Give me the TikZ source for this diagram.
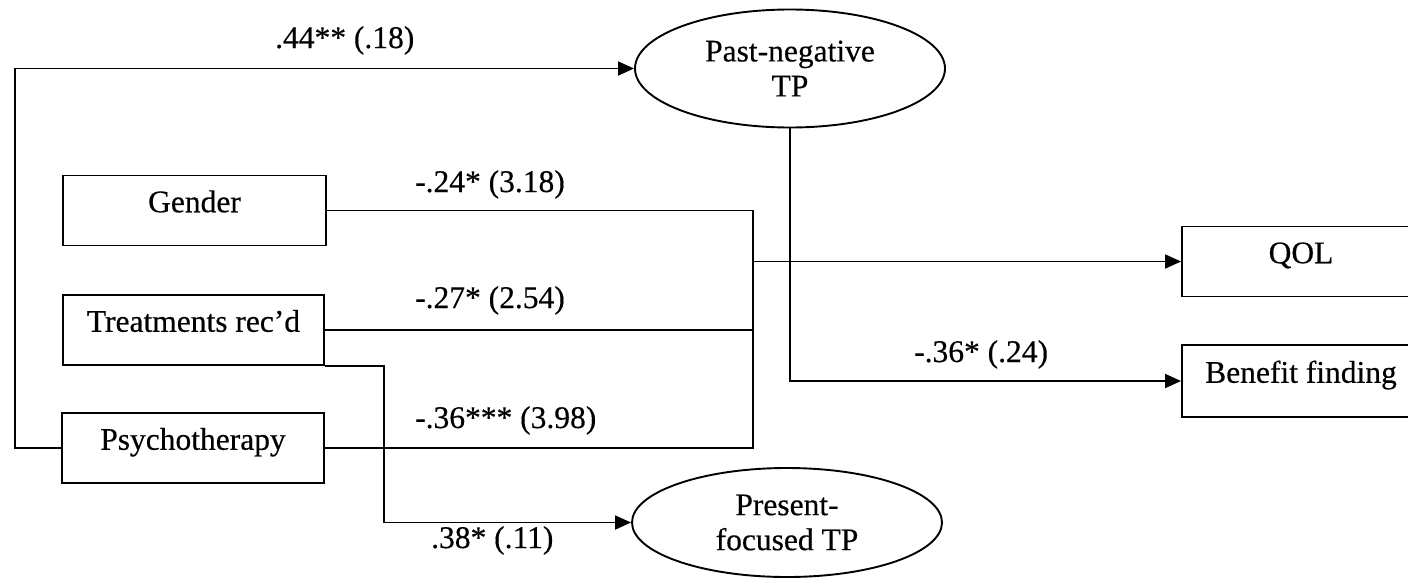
\documentclass[tikz,border=0pt]{standalone}
\usepackage{fontspec}
\setmainfont{Liberation Serif}[FakeBold=0.4]
\usetikzlibrary{shapes.geometric,arrows.meta}
\begin{document}
\begin{tikzpicture}[x=1pt,y=-1pt,
  every node/.style={font=\fontsize{31.5}{35}\selectfont, text=black},
  varbox/.style={draw, line width=1.9pt, minimum width=262pt, minimum height=70pt,
    inner sep=0pt, text height=0.7em, text depth=0.35em},
  latent/.style={draw, ellipse, line width=1.9pt, minimum width=310pt,
    inner sep=0pt, align=center},
  link/.style={line width=1.8pt},
  arr/.style={link, -{Triangle[length=16pt,width=14pt]}},
  coef/.style={anchor=base west, inner sep=0pt}]

\useasboundingbox (0,0) rectangle (1408,579);
\clip (0,0) rectangle (1408,579);

% predictors
\node[varbox, minimum width=263pt] (gender) at (194.5,210.5) {Gender};
\node[varbox, minimum width=261pt] (treat) at (193.5,330) {Treatments rec’d};
\node[varbox] (psy) at (193,448) {Psychotherapy};

% mediators
\node[latent, minimum height=118pt] (pn) at (790,68.5) {Past-negative\\TP};
\node[latent, minimum height=109pt] (pf) at (787,522.5) {Present-\\focused TP};

% outcomes
\node[varbox, minimum width=238pt] (qol) at (1301,261.5) {QOL};
\node[varbox, minimum width=238pt, minimum height=72pt] (bf) at (1301,381) {Benefit finding};

% paths
\coordinate (hub) at (753,261.5);
\draw[arr] (psy.west) -- ++(-46,0) |- (pn.west);
\draw[link] (gender.east) -| (hub |- psy.east) -- (psy.east);
\draw[link] (treat.east) -- (treat.east -| hub);
\draw[arr] (hub) -- (qol.west);
\draw[arr] (pn.south) |- (bf.west);
\draw[arr] (treat.south east) -- ++(59,0) |- (pf.west);

% coefficients
\node[coef] (c1) at (275,48) {.44** (.18)};
\node[coef] (c2) at (415,192) {-.24* (3.18)};
\node[coef] (c3) at (415,308) {-.27* (2.54)};
\node[coef] (c4) at (415,428) {-.36*** (3.98)};
\node[coef] (c5) at (431,548) {.38* (.11)};
\node[coef] (c6) at (914,362) {-.36* (.24)};
\end{tikzpicture}
\end{document}
